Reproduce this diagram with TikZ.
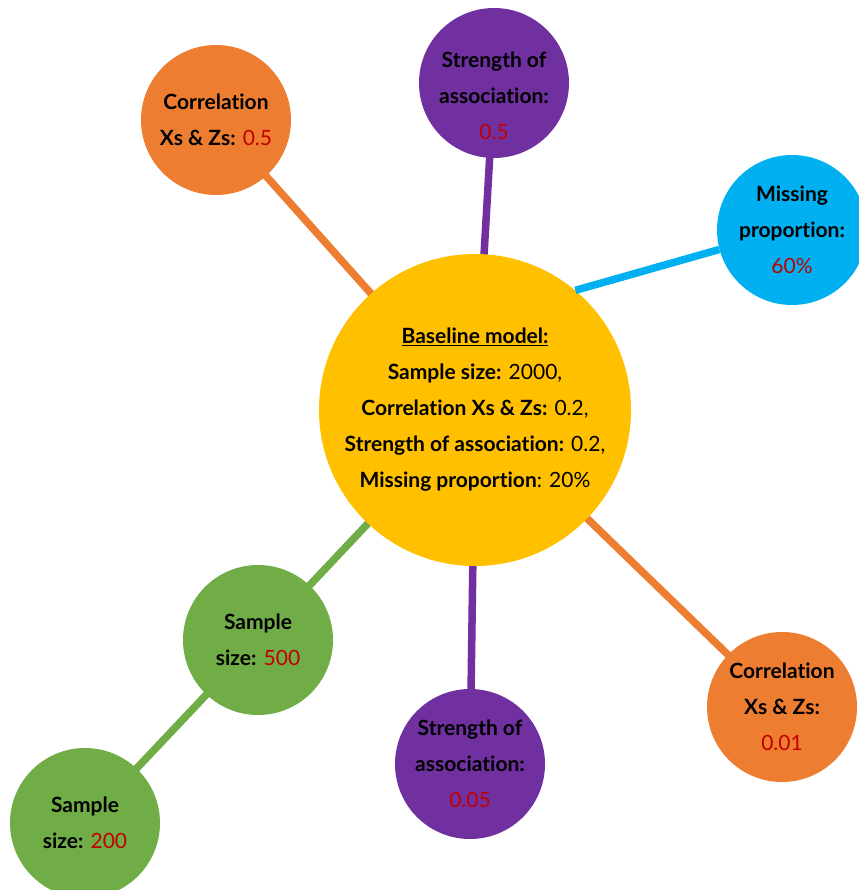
\documentclass[tikz,border=0pt]{standalone}
\usepackage{fontspec}
\setmainfont[Ligatures={NoCommon,NoRequired,NoContextual}]{Lato}
\definecolor{corange}{HTML}{ED7D31}
\definecolor{cpurple}{HTML}{7030A0}
\definecolor{cblue}{HTML}{00B0F0}
\definecolor{cgreen}{HTML}{70AD47}
\definecolor{cgold}{HTML}{FFC000}
\definecolor{cred}{HTML}{C00000}
\newcommand{\val}[1]{\textcolor{cred}{#1}}
\begin{document}
\begin{tikzpicture}[x=1pt,y=-1pt,
  bubble/.style={circle,inner sep=0pt,minimum size=150pt,align=center,
    font=\fontsize{21}{36}\selectfont},
  link/.style={line width=7.5pt},
  txt/.style={align=center,inner sep=0pt,font=\fontsize{21}{36}\selectfont}]
\useasboundingbox (0,0) rectangle (858,890);
% centres
\coordinate (pc) at (475,410);
\coordinate (pctl) at (216,120);
\coordinate (pst) at (494,83);
\coordinate (pm) at (792,230);
\coordinate (pcbr) at (782,707);
\coordinate (psb) at (470,764);
\coordinate (ps5) at (258,640);
\coordinate (ps2) at (85,823);
% connectors (behind)
\draw[link,corange] (pc) -- (pctl);
\draw[link,cpurple] (pc) -- (pst);
\draw[link,corange] (pc) -- (pcbr);
\draw[link,cpurple] (pc) -- (psb);
\draw[link,cgreen] (pc) -- (ps5);
\draw[link,cgreen] (ps5) -- (ps2);
% circles
\node[bubble,fill=cgold,minimum size=312pt] (c) at (pc) {\underline{\textbf{Baseline model:}}\\
  \textbf{Sample size:} 2000,\\
  \textbf{Correlation Xs \& Zs:} 0.2,\\
  \textbf{Strength of association:} 0.2,\\
  \textbf{Missing proportion}: 20\%};
\node[bubble,fill=corange] (ctl) at (pctl) {\textbf{Correlation}\\ \textbf{Xs \& Zs:} \val{0.5}};
\node[bubble,fill=cpurple] (st) at (pst) {};
\node[txt] (stt) at (494,96) {\textbf{Strength of}\\ \textbf{association:}\\ \val{0.5}};
\node[bubble,fill=cblue] (m) at (pm) {\textbf{Missing}\\ \textbf{proportion:}\\ \val{60\%}};
\draw[link,cblue] (c.50) -- (m.195);
\node[bubble,fill=corange] (cbr) at (pcbr) {\textbf{Correlation}\\ \textbf{Xs \& Zs:}\\ \val{0.01}};
\node[bubble,fill=cpurple] (sb) at (psb) {\textbf{Strength of}\\ \textbf{association:}\\ \val{0.05}};
\node[bubble,fill=cgreen] (s5) at (ps5) {\textbf{Sample}\\ \textbf{size:} \val{500}};
\node[bubble,fill=cgreen] (s2) at (ps2) {\textbf{Sample}\\ \textbf{size:} \val{200}};
\end{tikzpicture}
\end{document}
